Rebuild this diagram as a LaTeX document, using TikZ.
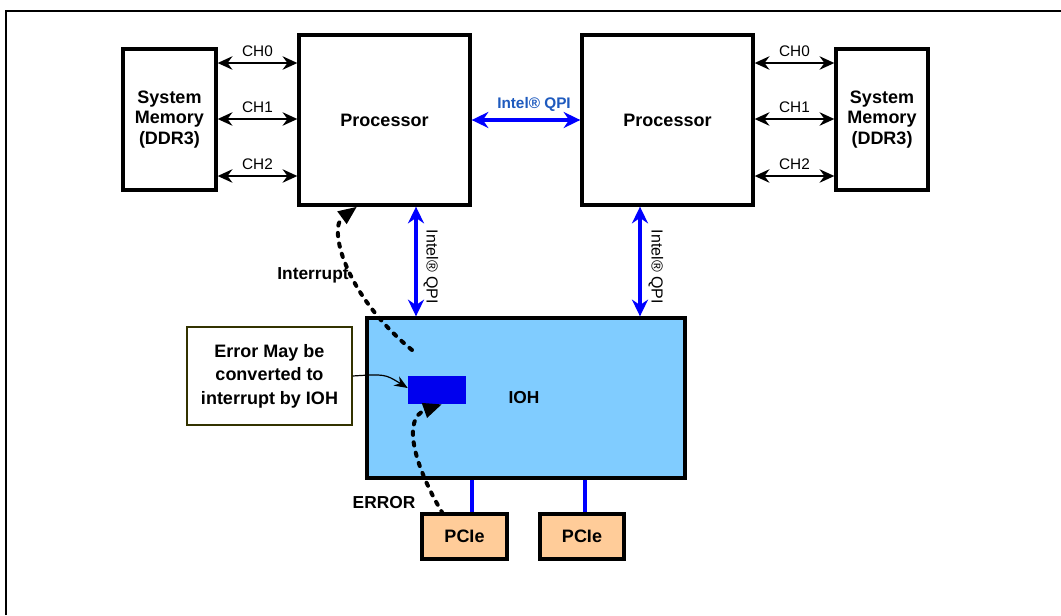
\documentclass[tikz,border=0pt]{standalone}
\usepackage{fontspec}
\setmainfont{Liberation Sans}
\usetikzlibrary{arrows.meta}
\definecolor{iohblue}{HTML}{80CCFF}
\definecolor{errblue}{HTML}{0000EE}
\definecolor{pciefill}{HTML}{FFCC99}
\definecolor{qpiblue}{HTML}{0000FF}
\definecolor{qpitext}{RGB}{30,90,190}
\definecolor{calloutline}{HTML}{333300}
\begin{document}
\begin{tikzpicture}[x=0.75pt,y=-0.75pt,
  box/.style={draw=black,line width=2.5pt,rectangle,inner sep=0pt,align=center,font=\bfseries\fontsize{13.5}{15.5}\selectfont},
  charrow/.style={line width=2.2pt,{Stealth[length=11pt,width=10pt]}-{Stealth[length=11pt,width=10pt]}},
  qpiarrow/.style={draw=qpiblue,line width=3pt,{Stealth[length=12.5pt,width=12pt]}-{Stealth[length=12.5pt,width=12pt]}},
  pcielink/.style={draw=qpiblue,line width=3.6pt},
  chlabel/.style={font=\fontsize{11.5}{13}\selectfont,inner sep=1pt},
  vqpi/.style={rotate=-90,font=\fontsize{12}{14}\selectfont,inner sep=0pt},
  dashflow/.style={line width=3pt,dash pattern=on 2.5pt off 5.5pt,line cap=round,-{Triangle[length=14pt,width=11pt,line cap=butt]}},
  biglabel/.style={font=\bfseries\fontsize{13}{15}\selectfont,inner sep=0pt}]
\useasboundingbox (0,0) rectangle (1061,615);
% frame
\draw[line width=1.6pt] (6,615) -- (6,11) -- (1061,11);
% nodes
\node[box,minimum width=69.75pt,minimum height=105.75pt] (lmem) at (169.5,119.5) {System\\Memory\\(DDR3)};
\node[box,minimum width=128.25pt,minimum height=127.5pt] (lproc) at (384.5,120) {Processor};
\node[box,minimum width=128.25pt,minimum height=127.5pt] (rproc) at (667.5,120) {Processor};
\node[box,minimum width=69pt,minimum height=105.75pt] (rmem) at (882,119.5) {System\\Memory\\(DDR3)};
\node[box,fill=iohblue,minimum width=238.5pt,minimum height=120pt] (ioh) at (526,398) {};
\node[biglabel] (iohlabel) at (524,398) {IOH};
\node[fill=errblue,draw=none,minimum width=43.5pt,minimum height=21pt,inner sep=0pt] (errbox) at (437,390) {};
\node[draw=calloutline,line width=0.8pt,fill=white,minimum width=123.75pt,minimum height=73.5pt,inner sep=0pt,align=center,
      font=\bfseries\fontsize{13.5}{17.6}\selectfont] (callout) at (269.5,376) {Error May be\\converted to\\interrupt by IOH};
\node[box,fill=pciefill,minimum width=63.75pt,minimum height=33.75pt] (pcie1) at (464.5,536.5) {PCIe};
\node[box,fill=pciefill,minimum width=63pt,minimum height=33.75pt] (pcie2) at (582,536.5) {PCIe};
% memory channels
\foreach \y/\c in {63/CH0,119/CH1,176/CH2}{
  \draw[charrow] (lmem.east |- 0,\y) -- node[chlabel,above=3pt]{\c} (lproc.west |- 0,\y);
  \draw[charrow] (rproc.east |- 0,\y) -- node[chlabel,above=3pt]{\c} (rmem.west |- 0,\y);
}
% QPI links
\draw[qpiarrow] (lproc.east) -- node[above=4.5pt,xshift=6pt,text=qpitext,font=\bfseries\fontsize{11.5}{13}\selectfont,inner sep=0pt]{Intel® QPI} (rproc.west);
\draw[qpiarrow] (lproc.south -| 416,0) -- (ioh.north -| 416,0);
\draw[qpiarrow] (rproc.south -| 640,0) -- (ioh.north -| 640,0);
\node[vqpi] (qpil) at (431,267) {Intel® QPI};
\node[vqpi] (qpir) at (656,267) {Intel® QPI};
% PCIe links
\draw[pcielink] (ioh.south -| 472,0) -- (pcie1.north -| 472,0);
\draw[pcielink] (ioh.south -| 585,0) -- (pcie2.north -| 585,0);
% callout arrow
\draw[line width=0.9pt,-{Stealth[length=10pt,width=8pt]}] (callout.east |- 0,376) .. controls (385,374) .. (errbox.west |- 0,388);
% interrupt and error flows
\coordinate (intstart) at (412,350);
\coordinate (errstart) at (443,514);
\draw[dashflow] (intstart) .. controls (345,295) and (328,228) .. (lproc.south -| 357,0);
\draw[dashflow] (errstart) .. controls (412,462) and (403,418) .. (errbox.south -| 442,0);
\node[biglabel] (intlabel) at (313,275) {Interrupt};
\node[biglabel] (errlabel) at (384,503) {ERROR};
\end{tikzpicture}
\end{document}
